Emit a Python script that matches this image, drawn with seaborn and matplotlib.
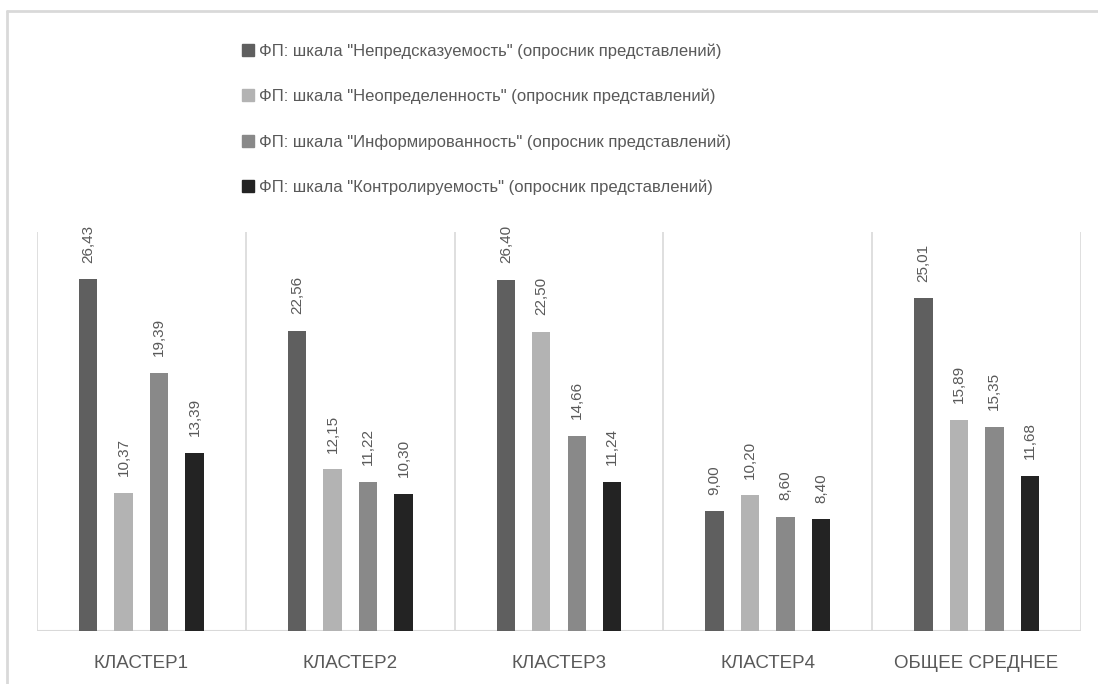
import matplotlib
matplotlib.use("Agg")
import matplotlib.pyplot as plt
from matplotlib.lines import Line2D
import seaborn as sns
import pandas as pd

# Cluster means for the four perception scales
clusters = ["КЛАСТЕР1", "КЛАСТЕР2", "КЛАСТЕР3", "КЛАСТЕР4", "ОБЩЕЕ СРЕДНЕЕ"]
series_names = [
    'ФП: шкала "Непредсказуемость" (опросник представлений)',
    'ФП: шкала "Неопределенность" (опросник представлений)',
    'ФП: шкала "Информированность" (опросник представлений)',
    'ФП: шкала "Контролируемость" (опросник представлений)',
]
unpredictability = [26.43, 22.56, 26.40, 9.00, 25.01]
uncertainty = [10.37, 12.15, 22.50, 10.20, 15.89]
awareness = [19.39, 11.22, 14.66, 8.60, 15.35]
controllability = [13.39, 10.30, 11.24, 8.40, 11.68]

series_values = [unpredictability, uncertainty, awareness, controllability]
colors = ["#5f5f5f", "#b3b3b3", "#898989", "#232323"]

rows = []
for name, vals in zip(series_names, series_values):
    for c, v in zip(clusters, vals):
        rows.append({"cluster": c, "series": name, "value": v})
df = pd.DataFrame(rows)

sns.set_theme(style="white")
plt.rcParams["font.family"] = ["Liberation Sans", "DejaVu Sans"]
text_grey = "#595959"
grid_grey = "#d9d9d9"

fig = plt.figure(figsize=(10.98, 6.84), dpi=100)
ax = fig.add_axes([37 / 1098, 1 - 631 / 684, (1081 - 37) / 1098, (631 - 232) / 684])

sns.barplot(
    data=df, x="cluster", y="value", hue="series",
    order=clusters, hue_order=series_names,
    palette=colors, width=0.68, gap=0.48,
    saturation=1, linewidth=0, ax=ax, legend=False,
)

ax.set_ylim(0, 30)
ax.set_xlim(-0.5, len(clusters) - 0.5)

# category separators and baseline
for x in [i - 0.5 for i in range(len(clusters) + 1)]:
    ax.axvline(x, color=grid_grey, lw=1.2, zorder=0)
for s in ax.spines.values():
    s.set_visible(False)
ax.axhline(0, color=grid_grey, lw=1.5, zorder=0)

ax.set_yticks([])
ax.set_xlabel("")
ax.set_ylabel("")
ax.tick_params(axis="x", length=0, pad=17, labelsize=13.5, labelcolor=text_grey)

for cont in ax.containers:
    ax.bar_label(
        cont, labels=[f"{v:.2f}".replace(".", ",") for v in cont.datavalues],
        rotation=90, padding=12, fontsize=11, color=text_grey,
    )

handles = [
    Line2D([], [], marker="s", linestyle="none", markersize=9,
           markerfacecolor=c, markeredgecolor=c)
    for c in colors
]
fig.legend(
    handles, series_names, loc="upper left", bbox_to_anchor=(234 / 1098, 1 - 37 / 684),
    frameon=False, fontsize=12, labelcolor=text_grey, labelspacing=1.78,
    handlelength=0.9, handletextpad=0.2, borderaxespad=0,
)

# outer chart frame
fig.add_artist(Line2D([7 / 1098, 7 / 1098], [0, 1 - 11 / 684], transform=fig.transFigure,
                      color=grid_grey, lw=2))
fig.add_artist(Line2D([7 / 1098, 1], [1 - 11 / 684, 1 - 11 / 684], transform=fig.transFigure,
                      color=grid_grey, lw=2))

fig.savefig("out.png", dpi=100, facecolor="white")
